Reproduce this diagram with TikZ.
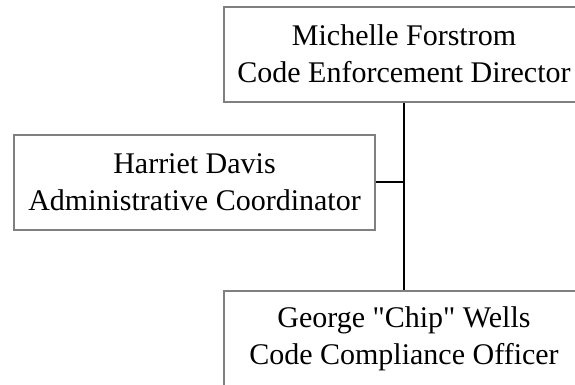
\documentclass[tikz,border=0pt]{standalone}
\usepackage{fontspec}
\setmainfont{Liberation Serif}[Ligatures=TeXOff]
\usepackage{tikz}
\usetikzlibrary{positioning}
\definecolor{boxgray}{RGB}{128,128,128}
\tikzstyle{staffbox} = [rectangle, minimum width=361pt, minimum height=95pt, inner sep=0pt, align=center, draw=boxgray, line width=2pt, font=\fontsize{30pt}{37pt}\selectfont]
\tikzstyle{link} = [line width=2pt, draw=black]

\begin{document}
\begin{tikzpicture}
        \useasboundingbox (0,0) rectangle (575pt,-384pt);
        \node (director) [staffbox] at (404pt,-54.1pt) {Michelle Forstrom\\Code Enforcement Director};
        \node (admin) [staffbox, below=31pt of director, xshift=-209.5pt] {Harriet Davis\\Administrative Coordinator};
        \node (officer) [staffbox, below=187.5pt of director] {George "Chip" Wells\\Code Compliance Officer};
        \draw [link] (director) -- (officer);
        \draw [link] (admin.east) -- (admin.east -| director.south);
    \end{tikzpicture}
\end{document}
